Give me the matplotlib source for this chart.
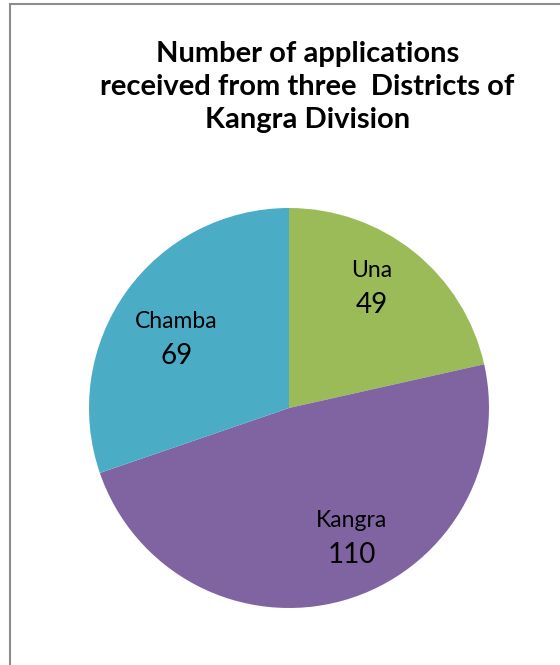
import numpy as np
import matplotlib.pyplot as plt
from matplotlib.lines import Line2D

districts = ["Una", "Kangra", "Chamba"]
applications = [49, 110, 69]
colors = ["#9BBB59", "#8064A2", "#4BACC6"]
title = "Number of applications\nreceived from three  Districts of\nKangra Division"

# where each data label sits inside its slice (fraction of radius, angle nudge)
label_r = [0.73, 0.72, 0.66]
label_shift = [4, 10, 4]

plt.rcParams['font.family'] = ['Lato', 'DejaVu Sans']

fig = plt.figure(figsize=(5.6, 6.65), dpi=100)

# chart border (only top and left edge visible in the crop)
fig.add_artist(Line2D([10/560, 10/560], [0, 1 - 4/665], color="#8c8c8c", lw=1.5))
fig.add_artist(Line2D([10/560, 1], [1 - 4/665, 1 - 4/665], color="#8c8c8c", lw=1.5))

fig.text(0.549, 1 - 87/665, title, ha="center", va="center", fontsize=21,
         fontweight="bold", linespacing=1.34)

ax = fig.add_axes([89/560, 57/665, 400/560, 400/665])
wedges, _ = ax.pie(applications, colors=colors, startangle=90, counterclock=False,
                   radius=1, wedgeprops=dict(linewidth=0))
ax.set_xlim(-1, 1)
ax.set_ylim(-1, 1)
ax.axis("off")

for w, name, val, r, sh in zip(wedges, districts, applications, label_r, label_shift):
    mid = np.deg2rad((w.theta1 + w.theta2) / 2 + sh)
    x, y = r * np.cos(mid), r * np.sin(mid)
    ax.annotate(name, (x, y), xytext=(0, 12.5), textcoords="offset points",
                ha="center", va="center", fontsize=16.5)
    ax.annotate(str(val), (x, y), xytext=(0, -12.5), textcoords="offset points",
                ha="center", va="center", fontsize=20)

fig.savefig("out.png", dpi=100)
